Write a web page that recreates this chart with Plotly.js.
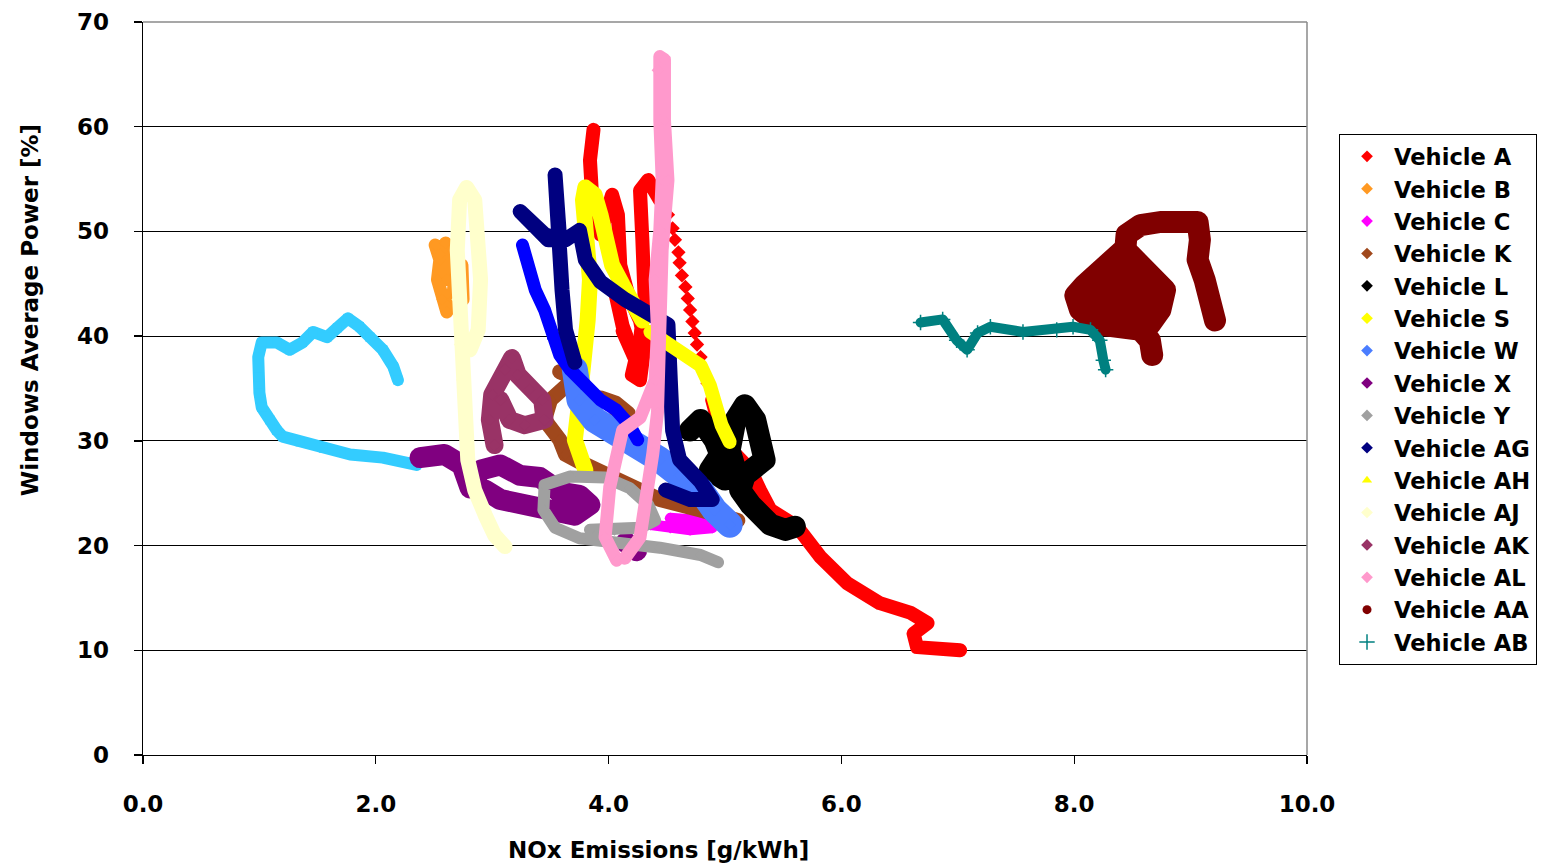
<!DOCTYPE html>
<html><head><meta charset="utf-8">
<script src="https://cdn.plot.ly/plotly-3.0.1.min.js"></script>
<style>html,body{margin:0;padding:0;background:#fff}#chart{width:1557px;height:867px}
path.js-line{stroke-linejoin:round !important;stroke-linecap:round !important}</style>
</head><body><div id="chart"></div>
<script>
// ---- data (x: NOx g/kWh, y: windows average power %) ----
const unlabeled1_x = [2.35,2.06,1.78,1.55,1.35,1.20,1.15,1.09,1.02,1.00,0.99,0.99,1.02,1.15,1.26,1.37,1.46,1.58,1.67,1.76,1.86,1.95,2.06,2.15,2.19];
const unlabeled1_y = [27.7,28.4,28.7,29.3,29.9,30.4,31.0,32.0,33.2,34.6,36.1,38.0,39.4,39.4,38.7,39.4,40.4,39.9,40.8,41.7,40.9,39.9,38.7,37.1,35.8];

const vehA_x = [3.87,3.84,3.86,3.93,4.03,4.08,4.10,4.17,4.27,4.31,4.27,4.20,4.27,4.31,4.29,4.27,4.34,4.44,null,4.89,4.96,5.09,5.22,5.30,5.39,5.62,5.82,6.05,6.33,6.59,6.74,6.62,6.65,7.02,null,4.05,4.12,4.22,4.12];
const vehA_y = [59.7,56.8,53.0,49.7,53.5,51.6,46.8,43.9,41.5,39.2,35.8,36.3,39.6,43.5,49.2,53.9,54.9,53.0,null,33.9,31.0,28.7,27.2,25.3,23.4,21.8,18.9,16.4,14.5,13.6,12.6,11.6,10.3,10.0,null,44.5,41.0,38.0,40.5];
const vehA_sparse_x = [4.51,4.55,4.57,4.60,4.61,4.63,4.66,4.68,4.70,4.72,4.74,4.76,4.79,4.81,4.85];
const vehA_sparse_y = [51.6,50.3,49.2,48.0,47.0,45.8,44.7,43.6,42.5,41.4,40.3,39.2,38.0,36.8,35.5];

const vehB_x = [2.51,2.55,2.53,2.57,2.61,2.66,2.68,2.66,2.60,2.55,2.61,null,2.74,2.75];
const vehB_y = [48.7,47.3,45.4,43.5,42.3,43.5,45.9,48.2,48.9,47.8,45.4,null,46.8,43.5];

const vehC_x = [4.36,4.53,4.70,4.89,4.79,4.53];
const vehC_y = [22.0,21.7,21.5,21.7,22.4,22.6];

const vehK_x = [3.58,3.71,3.50,3.45,3.58,3.63,3.75,3.93,4.14,4.44,4.79,5.11,null,3.93,4.06,4.17,4.06];
const vehK_y = [36.6,36.0,33.9,32.0,30.1,28.7,28.0,27.0,25.8,24.4,23.4,22.4,null,34.1,33.6,32.6,33.0];

const vehL_x = [4.70,4.79,4.91,4.96,4.87,5.00,5.09,5.04,5.09,5.17,5.26,5.30,5.34,5.17,5.13,5.22,5.30,5.39,5.52,5.60];
const vehL_y = [31.0,32.0,30.1,28.7,27.2,26.3,27.2,29.1,32.0,33.4,32.0,30.1,28.2,26.7,25.3,23.9,22.9,22.0,21.5,21.8];

const vehS_x = [3.80,3.71,3.75,3.80,3.82,3.84,3.80,3.78,3.80,3.88,3.93,3.97,4.03,4.12,4.20,4.29];
const vehS_y = [27.2,30.1,33.9,37.7,41.5,45.4,49.2,53.0,54.2,53.5,51.6,49.2,46.8,44.9,43.5,41.5];

const vehW_x = [3.71,3.75,3.88,4.10,4.27,4.44,4.61,4.79,4.91,5.04];
const vehW_y = [36.8,33.9,32.0,30.6,29.6,28.2,26.7,25.3,23.4,22.0];

const unlabeled2_x = [3.26,3.31,3.37,3.45,3.51,3.58,3.67,3.80,3.93,4.06,4.18,4.25];
const unlabeled2_y = [48.7,46.8,44.4,42.5,40.1,38.2,36.8,35.3,33.9,33.0,31.5,30.1];

const vehX_x = [2.38,2.59,2.74,2.81,2.90,3.07,3.24,3.41,3.50,3.58,3.75,3.84,3.71,3.54,3.41,3.24,3.07,2.94,null,4.15,4.24];
const vehX_y = [28.4,28.7,27.7,25.5,27.2,27.7,26.7,26.5,25.8,25.1,24.8,23.9,22.9,23.2,23.9,23.9,24.4,25.3,null,20.3,19.5];

const vehY_x = [4.94,4.79,4.44,4.10,3.75,3.54,3.44,3.45,3.67,3.97,4.18,4.34,4.40,4.27,4.05,3.84];
const vehY_y = [18.4,19.1,19.8,20.2,20.7,21.7,23.4,25.8,26.6,26.5,25.5,23.9,22.4,21.7,21.5,21.5];

const vehAG_x = [3.71,3.63,3.60,3.58,3.54,3.58,3.45,3.24,3.48,3.63,3.75,3.80,3.93,4.14,4.36,4.51,4.53,4.55,4.61,4.79,4.89,4.70,4.49];
const vehAG_y = [37.5,40.6,44.4,48.2,55.4,49.2,49.7,51.9,49.2,49.2,50.1,47.3,45.2,43.5,42.0,41.1,35.8,31.0,28.2,26.1,24.4,24.4,25.3];

const vehAH_x = [4.36,4.51,4.66,4.79,4.87,4.91,4.97,5.04];
const vehAH_y = [40.4,39.2,38.2,37.2,35.3,33.4,31.5,29.9];

const vehAJ_x = [3.11,3.02,2.94,2.85,2.79,2.77,2.74,2.72,2.70,2.70,2.72,2.78,2.85,2.88,2.90,2.88,2.81];
const vehAJ_y = [19.9,21.0,22.9,25.3,28.2,32.0,35.8,39.2,43.5,48.2,53.0,54.2,53.0,49.2,45.4,40.6,38.7];

const vehAK_x = [3.02,2.98,3.00,3.11,3.17,3.22,3.32,3.43,3.45,3.28,3.15,3.07];
const vehAK_y = [29.6,32.0,34.4,36.8,37.9,36.3,34.9,33.9,32.0,31.5,32.0,33.9];

const vehAL_x = [4.07,3.97,4.01,4.07,4.12,4.27,4.40,4.42,4.40,4.44,4.46,4.44,4.42,4.44,4.48,4.48,4.51,4.46,4.44,4.42,4.38,4.33,4.27,4.14];
const vehAL_y = [18.6,20.8,25.6,28.8,31.0,32.2,35.8,40.6,45.4,50.1,54.9,60.6,65.4,66.7,66.4,60.6,54.9,48.2,40.6,32.7,28.8,25.6,20.8,18.8];

const vehAA_x = [8.67,8.65,8.57,8.39,8.22,8.05,8.01,8.09,8.22,8.35,8.44,8.45,8.57,8.74,8.91,9.06,9.08,9.06,9.12,9.18,9.21,null,8.48,8.57,8.65,8.78,8.74,8.65,8.48,8.31,8.48,8.65,null,8.09,8.31,8.52,8.69,8.57,8.31,8.18,8.39,8.58];
const vehAA_y = [38.2,39.6,40.6,40.6,41.1,42.5,43.9,44.9,46.3,47.1,48.4,49.7,50.6,50.9,51.1,50.9,49.2,47.3,45.4,43.5,41.5,null,47.8,46.8,45.4,44.4,42.5,41.1,42.0,43.5,44.4,43.5,null,43.5,45.4,46.3,44.4,42.5,42.0,43.5,43.9,43.5];

const vehAB_x = [6.68,6.87,6.99,7.08,7.17,7.28,7.56,7.85,7.99,8.14,8.22,8.25,8.27];
const vehAB_y = [41.3,41.6,39.6,38.7,40.3,40.9,40.4,40.6,40.9,40.6,39.6,37.7,36.8];

const xTickVals = [0, 2, 4, 6, 8, 10];
const xTickText = ['0.0','2.0','4.0','6.0','8.0','10.0'];
const yTickVals = [0,10,20,30,40,50,60,70];

// ---- series styling ----
const series = [
  {name:'Unlabeled 1', x:unlabeled1_x, y:unlabeled1_y, color:'#33CCFF', w:12, sym:'square', legend:false},
  {name:'Vehicle A', x:vehA_x, y:vehA_y, color:'#FF0000', w:14, sym:'diamond', legend:true,
     extra:{x:vehA_sparse_x, y:vehA_sparse_y, size:11}},
  {name:'Vehicle B', x:vehB_x, y:vehB_y, color:'#FF9922', w:13, sym:'diamond', legend:true},
  {name:'Vehicle C', x:vehC_x, y:vehC_y, color:'#FF00FF', w:11, sym:'diamond', legend:true},
  {name:'Vehicle K', x:vehK_x, y:vehK_y, color:'#A0481C', w:15, sym:'diamond', legend:true},
  {name:'Vehicle L', x:vehL_x, y:vehL_y, color:'#000000', w:22, sym:'diamond', legend:true},
  {name:'Vehicle S', x:vehS_x, y:vehS_y, color:'#FFFF00', w:16, sym:'diamond', legend:true},
  {name:'Vehicle W', x:vehW_x, y:vehW_y, color:'#4A7DFF', w:26, sym:'diamond', legend:true},
  {name:'Unlabeled 2', x:unlabeled2_x, y:unlabeled2_y, color:'#0000FF', w:13, sym:'square', legend:false},
  {name:'Vehicle X', x:vehX_x, y:vehX_y, color:'#800080', w:21, sym:'diamond', legend:true},
  {name:'Vehicle Y', x:vehY_x, y:vehY_y, color:'#A0A0A0', w:12, sym:'diamond', legend:true},
  {name:'Vehicle AG', x:vehAG_x, y:vehAG_y, color:'#000080', w:15, sym:'diamond', legend:true},
  {name:'Vehicle AH', x:vehAH_x, y:vehAH_y, color:'#FFFF00', w:14, sym:'triangle-up', legend:true},
  {name:'Vehicle AJ', x:vehAJ_x, y:vehAJ_y, color:'#FFFFCC', w:15, sym:'diamond', legend:true},
  {name:'Vehicle AK', x:vehAK_x, y:vehAK_y, color:'#993366', w:18, sym:'diamond', legend:true},
  {name:'Vehicle AL', x:vehAL_x, y:vehAL_y, color:'#FF99CC', w:13, sym:'diamond', legend:true},
  {name:'Vehicle AA', x:vehAA_x, y:vehAA_y, color:'#800000', w:22, sym:'circle', legend:true},
  {name:'Vehicle AB', x:vehAB_x, y:vehAB_y, color:'#008080', w:10, sym:'cross-thin', legend:true}
];

const traces = [];
series.forEach((s, i) => {
  const grp = 'g' + i;
  traces.push({type:'scatter', mode:'lines', x:s.x, y:s.y, name:s.name, legendgroup:grp,
    showlegend:false, hoverinfo:'skip', connectgaps:false,
    line:{color:s.color, width:s.w}});
  if (s.extra) {
    traces.push({type:'scatter', mode:'markers', x:s.extra.x, y:s.extra.y, name:s.name, legendgroup:grp,
      showlegend:false, hoverinfo:'skip',
      marker:{symbol:s.sym, size:s.extra.size, color:s.color}});
  }
  const mk = {symbol:s.sym, size:9, color:s.color};
  if (s.sym === 'cross-thin') { mk.line = {color:s.color, width:1.5}; mk.size = 11; }
  traces.push({type:'scatter', mode:'markers', x:s.x, y:s.y, name:s.name, legendgroup:grp,
    showlegend:s.legend, hoverinfo:'skip', marker:mk});
});

const fontFam = 'DejaVu Sans, sans-serif';
const layout = {
  width:1557, height:867,
  paper_bgcolor:'#ffffff', plot_bgcolor:'#ffffff',
  margin:{l:143, r:250, t:22, b:112},
  showlegend:true,
  font:{family:fontFam, color:'#000000'},
  xaxis:{range:[0,10], tickvals:xTickVals, ticktext:xTickText, showgrid:false, zeroline:false,
    showline:true, linecolor:'#000000', linewidth:1.3, ticks:'outside', ticklen:8, tickcolor:'#000000',
    tickwidth:1.3, ticklabelstandoff:20, tickfont:{family:fontFam, size:23, weight:'bold', color:'#000000'}},
  yaxis:{range:[0,70], tickvals:yTickVals, showgrid:true, gridcolor:'#000000', gridwidth:1, zeroline:false,
    showline:true, linecolor:'#000000', linewidth:1.3, ticks:'outside', ticklen:8, tickcolor:'#000000',
    tickwidth:1.3, ticklabelstandoff:20, tickfont:{family:fontFam, size:23, weight:'bold', color:'#000000'}},
  legend:{x:1.0275, y:0.847, xanchor:'left', yanchor:'top', traceorder:'normal', tracegroupgap:0,
    itemwidth:44, bordercolor:'#000000', borderwidth:1, bgcolor:'#ffffff',
    font:{family:fontFam, size:22.6, weight:'bold', color:'#000000'}},
  shapes:[
    {type:'line', xref:'paper', yref:'paper', x0:0, x1:1, y0:1, y1:1, line:{color:'#8a8a8a', width:1.5}, layer:'above'},
    {type:'line', xref:'paper', yref:'paper', x0:1, x1:1, y0:0, y1:1, line:{color:'#8a8a8a', width:1.5}, layer:'above'}
  ],
  annotations:[
    {text:'NOx Emissions [g/kWh]', xref:'paper', yref:'paper', x:0.443, y:-0.1296, xanchor:'center', yanchor:'middle',
      showarrow:false, font:{family:fontFam, size:23, weight:'bold', color:'#000000'}},
    {text:'Windows Average Power [%]', xref:'paper', yref:'paper', x:-0.097, y:0.607, xanchor:'center', yanchor:'middle',
      textangle:-90, showarrow:false, font:{family:fontFam, size:23, weight:'bold', color:'#000000'}}
  ]
};

Plotly.newPlot('chart', traces, layout, {displayModeBar:false, staticPlot:true});
</script></body></html>
